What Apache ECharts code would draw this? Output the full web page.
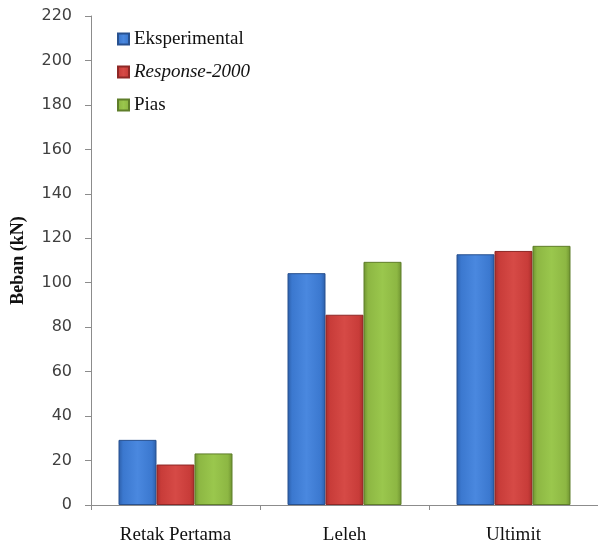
<!DOCTYPE html>
<html>
<head>
<meta charset="utf-8">
<script src="https://cdn.jsdelivr.net/npm/echarts@6/dist/echarts.min.js"></script>
<style>
  html, body { margin: 0; padding: 0; background: #fff; }
  #chart { width: 598px; height: 549px; }
</style>
</head>
<body>
<div id="chart"></div>
<script>
// data
const categories = ['Retak Pertama', 'Leleh', 'Ultimit']
const seriesNames = ['Eksperimental', 'Response-2000', 'Pias']
const eksperimental = [29.3, 104.3, 112.8]
const response2000 = [18.2, 85.6, 114.3]
const pias = [23.2, 109.4, 116.6]
const yTicks = { min: 0, max: 220, interval: 20 }

const chart = echarts.init(document.getElementById('chart'))

// horizontal gradient to mimic the bevelled bars
function barColor (dark, mid, light) {
  return new echarts.graphic.LinearGradient(0, 0, 1, 0, [
    { offset: 0, color: dark },
    { offset: 0.12, color: mid },
    { offset: 0.5, color: light },
    { offset: 0.88, color: mid },
    { offset: 1, color: dark }
  ])
}

const styles = [
  { color: barColor('#2c5ea8', '#3b78cf', '#4a88df'), border: '#28518f' },
  { color: barColor('#a82e2c', '#c83c39', '#d64a46'), border: '#8e2826' },
  { color: barColor('#6e9230', '#8db743', '#9ac74d'), border: '#5f7e2a' }
]
const values = [eksperimental, response2000, pias]

const series = seriesNames.map((name, i) => ({
  name: name,
  type: 'bar',
  data: values[i],
  barWidth: 38,
  barGap: '0%',
  itemStyle: {
    color: styles[i].color,
    borderColor: styles[i].border,
    borderWidth: 1
  }
}))

const option = {
  animation: false,
  grid: { left: 91, right: 0, top: 16, bottom: 44 },
  legend: {
    orient: 'vertical',
    left: 112,
    top: 24,
    itemWidth: 11,
    itemHeight: 11,
    itemGap: 13,
    icon: 'rect',
    textStyle: {
      fontFamily: 'Liberation Serif',
      fontSize: 19,
      lineHeight: 20,
      color: '#111',
      rich: {
        i: { fontFamily: 'Liberation Serif', fontSize: 19, lineHeight: 20, fontStyle: 'italic', color: '#111' }
      }
    },
    formatter: name => name === 'Response-2000' ? '{i|' + name + '}' : name,
    data: seriesNames
  },
  xAxis: {
    type: 'category',
    data: categories,
    axisLine: { lineStyle: { color: '#8c8c8c' } },
    axisTick: { show: true, length: 5, lineStyle: { color: '#8c8c8c' } },
    axisLabel: {
      margin: 21,
      fontFamily: 'Liberation Serif',
      fontSize: 19,
      color: '#111'
    }
  },
  yAxis: {
    type: 'value',
    min: yTicks.min,
    max: yTicks.max,
    interval: yTicks.interval,
    name: 'Beban (kN)',
    nameLocation: 'middle',
    nameGap: 64,
    nameTextStyle: {
      fontFamily: 'Liberation Serif',
      fontSize: 18,
      fontWeight: 'bold',
      color: '#111'
    },
    axisLine: { show: true, lineStyle: { color: '#8c8c8c' } },
    axisTick: { show: true, length: 6, lineStyle: { color: '#8c8c8c' } },
    splitLine: { show: false },
    axisLabel: {
      margin: 19,
      fontFamily: 'DejaVu Sans',
      fontSize: 16,
      color: '#404040'
    }
  },
  series: series
}

chart.setOption(option)
</script>
</body>
</html>
